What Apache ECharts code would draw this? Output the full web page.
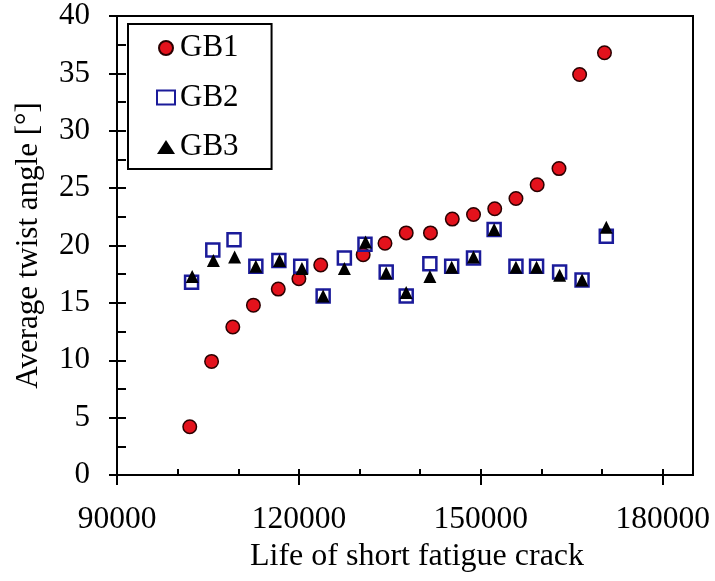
<!DOCTYPE html>
<html>
<head>
<meta charset="utf-8">
<script src="https://cdn.jsdelivr.net/npm/echarts@6/dist/echarts.min.js"></script>
<style>
html,body{margin:0;padding:0;background:#fff;}
#chart{width:715px;height:581px;}
</style>
</head>
<body>
<div id="chart"></div>
<script>
// Data
var gb1X = [102000, 105600, 109100, 112500, 116600, 120000, 123600, 130600, 134200, 137700, 141700, 145300, 148800, 152300, 155800, 159300, 162900, 166300, 170400];
var gb1Y = [4.2, 9.9, 12.9, 14.8, 16.2, 17.1, 18.3, 19.2, 20.2, 21.1, 21.1, 22.3, 22.7, 23.2, 24.1, 25.3, 26.7, 34.9, 36.8];
var gb2X = [102300, 105800, 109300, 112900, 116700, 120300, 124000, 127500, 130900, 134400, 137700, 141600, 145200, 148800, 152200, 155800, 159200, 163000, 166700, 170700];
var gb2Y = [16.8, 19.6, 20.5, 18.2, 18.7, 18.2, 15.6, 18.9, 20.1, 17.7, 15.6, 18.4, 18.2, 18.9, 21.4, 18.2, 18.2, 17.7, 17.0, 20.8];
var gb3X = [102400, 105900, 109400, 112900, 116800, 120500, 124000, 127500, 131000, 134400, 137700, 141600, 145200, 148800, 152200, 155800, 159200, 163000, 166700, 170700];
var gb3Y = [17.3, 18.7, 19.0, 18.2, 18.7, 18.0, 15.6, 18.0, 20.3, 17.6, 15.9, 17.3, 18.1, 19.0, 21.4, 18.1, 18.1, 17.4, 17.0, 21.6];
var seriesNames = ['GB1', 'GB2', 'GB3'];
var xMajorTicks = [90000, 120000, 150000, 180000];
var xMinorTicks = [90000, 100000, 110000, 120000, 130000, 140000, 150000, 160000, 170000, 180000];
var xTitle = 'Life of short fatigue crack';
var yTitle = 'Average twist angle [°]';

function pairs(xs, ys) { return xs.map(function (x, i) { return [x, ys[i]]; }); }

var FONT = 'Liberation Serif';
var chart = echarts.init(document.getElementById('chart'), null, {renderer: 'canvas'});
var lineStyle = {color: '#000', width: 2};

chart.setOption({
  backgroundColor: '#fff',
  animation: false,
  grid: {left: 117, top: 16, right: 22, bottom: 106, show: true, borderColor: '#000', borderWidth: 2, backgroundColor: 'transparent'},
  legend: {
    orient: 'vertical',
    left: 128, top: 24,
    padding: [8, 33, 6, 28],
    itemGap: 17.5,
    itemWidth: 18, itemHeight: 14,
    borderColor: '#000', borderWidth: 2, backgroundColor: '#fff',
    textStyle: {fontFamily: FONT, fontSize: 31, color: '#000', lineHeight: 32},
    data: seriesNames
  },
  xAxis: [{
    type: 'value', min: 90000, max: 185000, position: 'bottom',
    name: xTitle, nameLocation: 'middle', nameGap: 66,
    nameTextStyle: {fontFamily: FONT, fontSize: 32, color: '#000', padding: [0, 0, 0, 24]},
    axisLine: {show: true, onZero: false, lineStyle: lineStyle},
    axisTick: {show: true, inside: false, length: 10, customValues: xMajorTicks, lineStyle: lineStyle},
    axisLabel: {show: true, margin: 29, customValues: xMajorTicks, fontFamily: FONT, fontSize: 31.5, color: '#000', formatter: function (v) { return String(v); }},
    splitLine: {show: false}
  }, {
    type: 'value', min: 90000, max: 185000, position: 'bottom',
    axisLine: {show: false, onZero: false},
    axisTick: {show: true, inside: true, length: 6, customValues: xMinorTicks, lineStyle: lineStyle},
    axisLabel: {show: false},
    splitLine: {show: false}
  }],
  yAxis: [{
    type: 'value', min: 0, max: 40, interval: 5, position: 'left',
    name: yTitle, nameLocation: 'middle', nameGap: 73,
    nameTextStyle: {fontFamily: FONT, fontSize: 31, color: '#000'},
    axisLine: {show: true, onZero: false, lineStyle: lineStyle},
    axisTick: {show: true, inside: false, length: 8, lineStyle: lineStyle},
    axisLabel: {show: true, margin: 27, padding: [4, 0, 0, 0], fontFamily: FONT, fontSize: 31, color: '#000'},
    splitLine: {show: false}
  }, {
    type: 'value', min: 0, max: 40, interval: 2.5, position: 'left',
    axisLine: {show: false, onZero: false},
    axisTick: {show: true, inside: true, length: 9, lineStyle: lineStyle},
    axisLabel: {show: false},
    splitLine: {show: false}
  }],
  series: [{
    name: seriesNames[0], type: 'scatter', xAxisIndex: 0, yAxisIndex: 0,
    symbol: 'circle', symbolSize: 13.5,
    itemStyle: {color: '#e3121c', borderColor: '#2a0000', borderWidth: 1.5, opacity: 1},
    data: pairs(gb1X, gb1Y)
  }, {
    name: seriesNames[1], type: 'scatter', xAxisIndex: 0, yAxisIndex: 0,
    symbol: 'rect', symbolSize: 13,
    itemStyle: {color: 'rgba(255,255,255,0)', borderColor: '#1b1b9a', borderWidth: 2.5, opacity: 1},
    data: pairs(gb2X, gb2Y)
  }, {
    name: seriesNames[2], type: 'scatter', xAxisIndex: 0, yAxisIndex: 0,
    symbol: 'triangle', symbolSize: 13,
    itemStyle: {color: '#000', opacity: 1},
    data: pairs(gb3X, gb3Y)
  }]
});
</script>
</body>
</html>
